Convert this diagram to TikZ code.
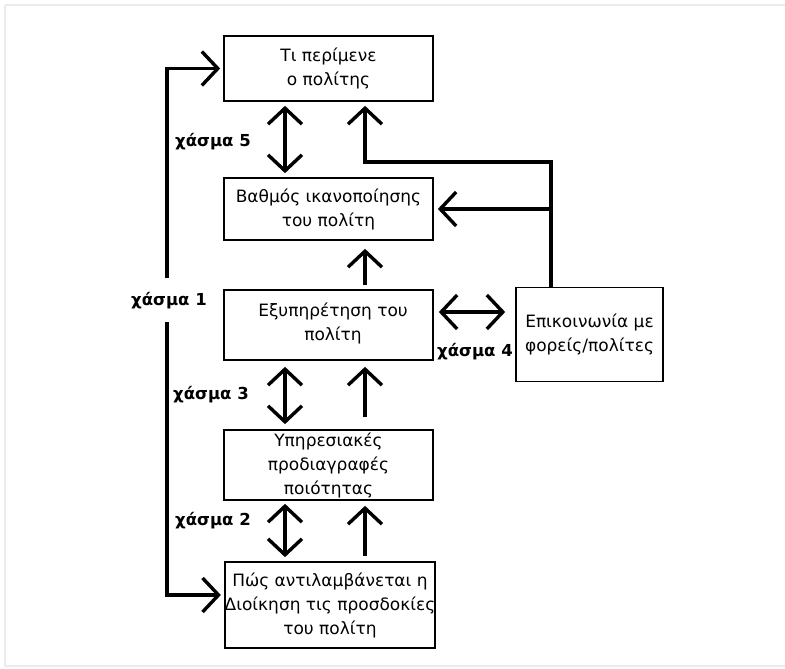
\documentclass[tikz,border=0pt]{standalone}
\usepackage{fontspec}
\setmainfont{DejaVu Sans}
\usetikzlibrary{arrows.meta,calc}
\begin{document}
\begin{tikzpicture}[x=1pt,y=-1pt,
  box/.style={draw=black,line width=1.7pt,rectangle,inner sep=0pt,align=center,
    font=\fontsize{17}{24}\selectfont},
  boxtext/.style={align=center,inner sep=0pt,font=\fontsize{17}{24}\selectfont},
  gaplabel/.style={inner sep=0pt,font=\bfseries\fontsize{16.5}{20}\selectfont},
  arr/.style={line width=3.4pt,-{Straight Barb[length=16pt,width=34pt,line width=3.4pt]}},
  darr/.style={line width=3.4pt,{Straight Barb[length=16pt,width=34pt,line width=3.4pt]}-{Straight Barb[length=16pt,width=34pt,line width=3.4pt]}},
  line join=miter]
  \useasboundingbox (0,0) rectangle (785,669);
  % outer frame
  \draw[black!8,line width=1.5pt] (5,5) -- (785,5);
  \draw[black!8,line width=1.5pt] (5,5) -- (5,666) -- (785,666);

  % boxes
  \node[box,minimum width=209pt,minimum height=65pt] (b1) at (328.5,68.5) {Τι περίμενε\\ο πολίτης};
  \node[box,minimum width=209pt,minimum height=62pt] (b2) at (328.5,209) {Βαθμός ικανοποίησης\\του πολίτη};
  \node[box,minimum width=209pt,minimum height=70pt] (b3) at (328.5,325) {};
  \node[boxtext] (t3) at (333,323) {Εξυπηρέτηση του\\πολίτη};
  \node[box,minimum width=147pt,minimum height=94pt] (b4) at (589.5,334.5) {Επικοινωνία με\\φορείς/πολίτες};
  \node[box,minimum width=209pt,minimum height=70pt] (b5) at (328.5,465) {Υπηρεσιακές\\προδιαγραφές\\ποιότητας};
  \node[box,minimum width=210pt,minimum height=86pt] (b6) at (330,605) {Πώς αντιλαμβάνεται η\\Διοίκηση τις προσδοκίες\\του πολίτη};

  % gap labels
  \node[gaplabel] (g5) at (213,142) {χάσμα 5};
  \node[gaplabel] (g1) at (169,301) {χάσμα 1};
  \node[gaplabel] (g4) at (475,352) {χάσμα 4};
  \node[gaplabel] (g3) at (211,395) {χάσμα 3};
  \node[gaplabel] (g2) at (213,521) {χάσμα 2};

  % helper coordinates
  \coordinate (lx) at (167,0);
  \coordinate (dx) at (285,0);
  \coordinate (ux) at (365,0);
  \coordinate (fx) at (551,162);
  \coordinate (fc) at (365,162);
  \coordinate (hy) at (0,312);

  % left feedback line (gap 1)
  \draw[arr,shorten >=3pt] (lx |- 0,278) |- (b1.west);
  \draw[arr,shorten >=3pt] (lx |- 0,322) |- ($(b6.west)+(0,-10)$);

  % gap 5
  \draw[darr,shorten <=4pt,shorten >=4pt] (b1.south -| dx) -- (b2.north -| dx);
  % communication feeds expectations and satisfaction
  \draw[arr,shorten >=4pt] (b4.north -| fx) |- (fc) -- (b1.south -| fc);
  \draw[arr,shorten >=4pt] (b2.east -| fx) -- (b2.east);
  % service -> satisfaction
  \draw[arr,shorten <=4pt,shorten >=8pt] (b3.north -| ux) -- (b2.south -| ux);
  % gap 4
  \draw[darr,shorten <=5pt,shorten >=10pt] (b3.east |- hy) -- (b4.west |- hy);
  % gap 3
  \draw[darr,shorten <=6pt,shorten >=5pt] (b3.south -| dx) -- (b5.north -| dx);
  \draw[arr,shorten <=12pt,shorten >=6pt] (b5.north -| ux) -- (b3.south -| ux);
  % gap 2
  \draw[darr,shorten <=3pt,shorten >=4pt] (b5.south -| dx) -- (b6.north -| dx);
  \draw[arr,shorten <=5pt,shorten >=5pt] (b6.north -| ux) -- (b5.south -| ux);
\end{tikzpicture}
\end{document}
